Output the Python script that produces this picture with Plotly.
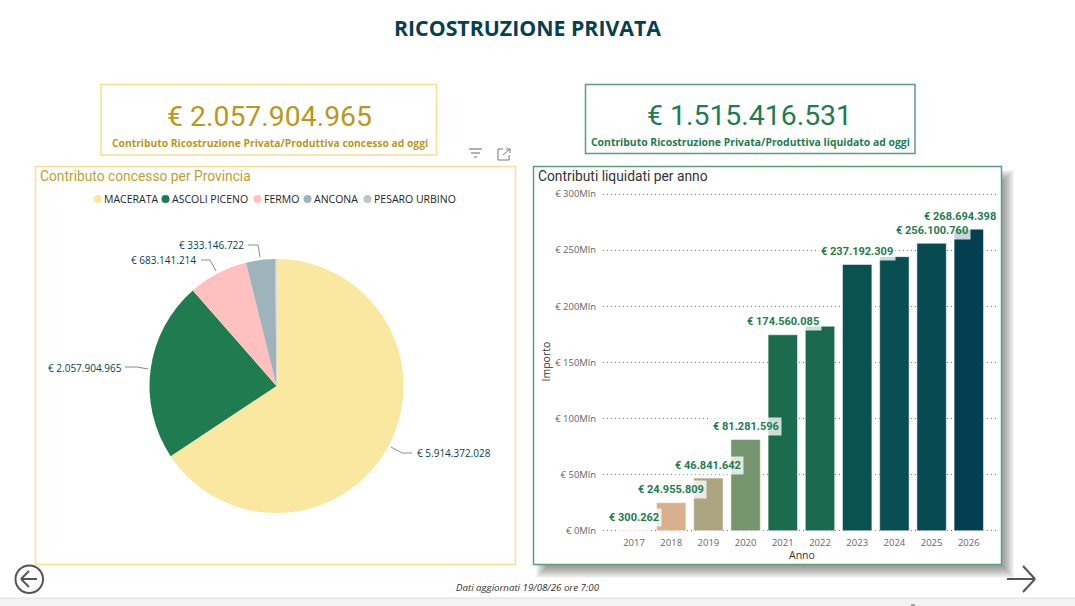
import plotly.graph_objects as go

W = 1075
H = 606

# Pie data
province = ['MACERATA', 'ASCOLI PICENO', 'FERMO', 'ANCONA', 'PESARO URBINO']
concesso = [5914372028, 2057904965, 683141214, 333146722, 15000000]
province_colors = ['#FAE8A0', '#1E7C50', '#FFC0C0', '#9DB4BD', '#BFC5C5']

# Bar data (2022 and 2024 have no readable label in the picture)
anni = ['2017', '2018', '2019', '2020', '2021', '2022', '2023', '2024', '2025', '2026']
liquidati = [300262, 24955809, 46841642, 81281596, 174560085, 182200000, 237192309, 244200000, 256100760, 268694398]
anni_con_etichetta = ['2017', '2018', '2019', '2020', '2021', '2023', '2025', '2026']
bar_colors = ['#E8B9A0', '#D8B08E', '#ADA582', '#75956E', '#1B6B4E', '#1A694F', '#0A5152', '#094E52', '#064A52', '#033F50']

y_ticks = [0, 50000000, 100000000, 150000000, 200000000, 250000000, 300000000]
y_tick_labels = ['€ 0Mln', '€ 50Mln', '€ 100Mln', '€ 150Mln', '€ 200Mln', '€ 250Mln', '€ 300Mln']

totale_concesso = '€ 2.057.904.965'
totale_liquidato = '€ 1.515.416.531'

DARK = '#053F50'
GOLD = '#B8991C'
GREEN = '#1E7C50'


def px(x):
    return x / W


def py(y):
    return 1 - y / H


def euro(v):
    return '€ ' + f'{v:,}'.replace(',', '.')


def rect(x0, y0, x1, y1, fill='rgba(0,0,0,0)', line='rgba(0,0,0,0)', width=1):
    return dict(type='rect', xref='paper', yref='paper', x0=px(x0), x1=px(x1), y0=py(y0), y1=py(y1),
                fillcolor=fill, line=dict(color=line, width=width), layer='below')


def seg(x0, y0, x1, y1, color='#777777', width=1):
    return dict(type='line', xref='paper', yref='paper', x0=px(x0), x1=px(x1), y0=py(y0), y1=py(y1),
                line=dict(color=color, width=width))


def text(x, y, s, size, color, family='Open Sans', anchor='left'):
    return dict(xref='paper', yref='paper', x=px(x), y=py(y), text=s, showarrow=False, xanchor=anchor,
                yanchor='middle', font=dict(size=size, color=color, family=family))


shapes = []
annotations = []

# Soft shadow of the bar panel
for i in range(12):
    shapes.append(rect(536 + i, 170 + i, 1014 - i, 578 - i, fill='rgba(60,60,60,0.05)'))
shapes.append(rect(533.5, 166.5, 1001.5, 564.5, fill='white', line='#5E9C82', width=1.5))
shapes.append(rect(35.5, 166.5, 515.5, 564.5, fill='white', line='#F5E08F', width=1.5))
shapes.append(rect(101, 84.5, 436.5, 155, fill='white', line='#F5E08F', width=1.5))
shapes.append(rect(585.5, 84.5, 915, 153.5, fill='white', line='#5E9C82', width=1.5))

# Bottom strip
shapes.append(rect(0, 598, W, H, fill='#F3F3F3'))
shapes.append(seg(0, 598, W, 598, color='#E0E0E0'))
shapes.append(seg(911, 605, 915, 605, color='#555555'))

# Filter and expand icons
shapes.append(seg(469, 149, 482, 149, color='#666666'))
shapes.append(seg(471, 153, 480, 153, color='#666666'))
shapes.append(seg(474, 157, 477, 157, color='#666666'))
shapes.append(dict(type='path', xref='paper', yref='paper',
                   path=f'M {px(503)} {py(149)} L {px(498)} {py(149)} L {px(498)} {py(160)} L {px(509)} {py(160)} L {px(509)} {py(155)} '
                        f'M {px(503)} {py(155)} L {px(510)} {py(149)} M {px(506)} {py(149)} L {px(510)} {py(149)} L {px(510)} {py(153)}',
                   line=dict(color='#777777', width=1)))

# Navigation arrows
shapes.append(dict(type='circle', xref='paper', yref='paper', x0=px(15.5), x1=px(43), y0=py(593), y1=py(565.5),
                   line=dict(color='#555555', width=2)))
shapes.append(seg(21, 579, 37, 579, color='#555555', width=2))
shapes.append(seg(21, 579, 29, 571, color='#555555', width=2))
shapes.append(seg(21, 579, 29, 587, color='#555555', width=2))
shapes.append(seg(1007, 579, 1035, 579, color='#555555', width=2))
shapes.append(seg(1035, 579, 1023, 566, color='#555555', width=2))
shapes.append(seg(1035, 579, 1023, 592, color='#555555', width=2))

annotations.append(text(527.5, 27, '<b>RICOSTRUZIONE PRIVATA</b>', 21.3, DARK, anchor='center'))

annotations.append(text(269.5, 117, totale_concesso, 28.4, GOLD, family='Roboto', anchor='center'))
annotations.append(text(269.5, 143, '<b>Contributo Ricostruzione Privata/Produttiva concesso ad oggi</b>', 10.3, GOLD, anchor='center'))
annotations.append(text(749.5, 115, totale_liquidato, 28.4, GREEN, family='Roboto', anchor='center'))
annotations.append(text(750.5, 142, '<b>Contributo Ricostruzione Privata/Produttiva liquidato ad oggi</b>', 10.4, GREEN, anchor='center'))

annotations.append(text(38, 175.5, 'Contributo concesso per Provincia', 13.8, '#BFA12E', family='Roboto'))
annotations.append(text(536, 175.5, 'Contributi liquidati per anno', 13.8, '#333333', family='Roboto'))
annotations.append(text(527.5, 587, '<i>Dati aggiornati 19/08/26 ore 7:00</i>', 9.7, '#333333', anchor='center'))

# Legend of the pie, circles as in the original
legend_dot_x = [97.5, 165.5, 257.5, 307.5, 367.5]
for name, col, lx in zip(province, province_colors, legend_dot_x):
    shapes.append(dict(type='circle', xref='paper', yref='paper', x0=px(lx - 4), x1=px(lx + 4), y0=py(203), y1=py(195),
                       fillcolor=col, line=dict(width=0)))
    annotations.append(text(lx + 4, 199, name, 10.5, '#252423'))

# Pie labels and their elbow leader lines
pie_label_pos = [(414.5, 453), (123.5, 368), (197.5, 260), (245.5, 245)]
leader_paths = [[(391, 447), (402, 453), (412, 453)],
                [(125, 367), (137, 367), (148, 369)],
                [(201, 260), (210, 260), (216, 271)],
                [(248, 245), (258, 245), (260, 257)]]
for val, pos, pts in zip(concesso, pie_label_pos, leader_paths):
    annotations.append(text(pos[0], pos[1], euro(val), 10, DARK, anchor='left' if pos[0] > 276 else 'right'))
    p = 'M ' + ' L '.join(f'{px(a)} {py(b)}' for a, b in pts)
    shapes.append(dict(type='path', xref='paper', yref='paper', path=p, line=dict(color='#8A8A8A', width=1)))

# Bar labels sit above each bar, with a see through white box
for i, (anno, val) in enumerate(zip(anni, liquidati)):
    if anno not in anni_con_etichetta:
        continue
    annotations.append(dict(xref='x', yref='y', x=i, y=val, text=f'<b>{euro(val)}</b>', showarrow=False,
                            yanchor='middle', yshift=13, xshift=-9 if anno == '2026' else 0,
                            font=dict(size=11, color=GREEN, family='Roboto'),
                            bgcolor='rgba(255,255,255,0.78)', borderpad=2))

annotations.append(text(802, 555, 'Anno', 10.5, '#333333', anchor='center'))
annotations.append(dict(xref='paper', yref='paper', x=px(545.5), y=py(362), text='Importo', textangle=-90, showarrow=False,
                        font=dict(size=10.5, color='#333333', family='Open Sans')))

pie = go.Pie(labels=province, values=concesso, sort=False, direction='clockwise', rotation=0,
             marker=dict(colors=province_colors), textinfo='none', showlegend=False, hoverinfo='label+value',
             domain=dict(x=[px(149.5), px(403.5)], y=[py(513), py(259)]))

bars = go.Bar(x=anni, y=liquidati, marker=dict(color=bar_colors, line=dict(color='rgba(255,255,255,0.5)', width=1)),
              showlegend=False, width=0.79)

fig = go.Figure(data=[pie, bars])

# y range goes a little past 0 and 300Mln, plotly drops gridlines sitting right on the range ends
fig.update_layout(
    width=W,
    height=H,
    margin=dict(l=0, r=0, t=0, b=0, autoexpand=False),
    paper_bgcolor='white',
    plot_bgcolor='rgba(0,0,0,0)',
    shapes=shapes,
    annotations=annotations,
    xaxis=dict(type='category', domain=[px(603), px(998)], range=[-0.833, 9.785], showgrid=False, zeroline=False,
               showline=False, ticks='', ticklabelstandoff=3, tickfont=dict(size=9.5, color='#666666', family='Open Sans')),
    yaxis=dict(domain=[py(532.94), py(191.76)], range=[-2000000, 302000000], tickvals=y_ticks, ticktext=y_tick_labels,
               showgrid=True, gridcolor='#777777', griddash='1px,3px', gridwidth=1, zeroline=False, ticks='outside',
               ticklen=4, tickcolor='rgba(0,0,0,0)', tickfont=dict(size=9.5, color='#666666', family='Open Sans')),
)

fig.write_html("out.html", config=dict(displayModeBar=False), post_script="document.body.style.margin='0';")
